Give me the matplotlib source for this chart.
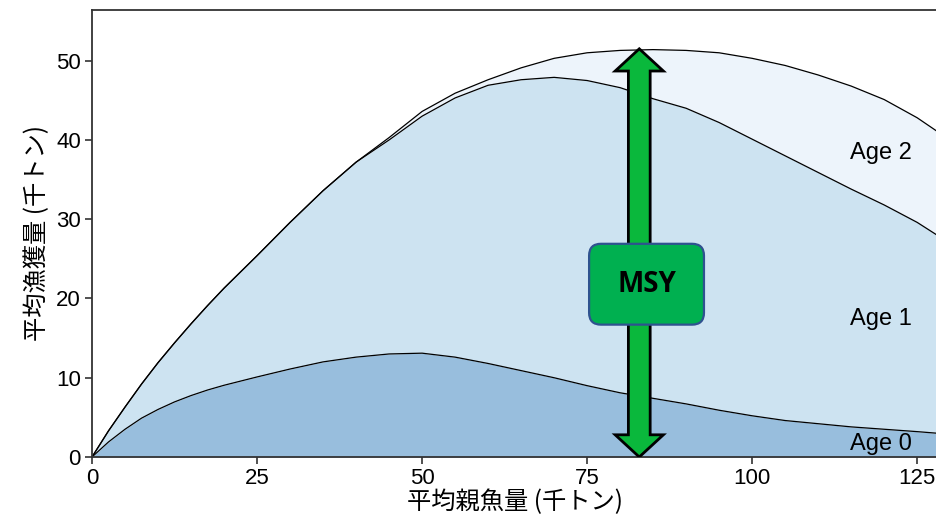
import matplotlib
matplotlib.use("Agg")
import numpy as np
import matplotlib.pyplot as plt
from matplotlib.patches import FancyArrow, FancyBboxPatch


# ---------------------------------
# Data (千トン)
# ---------------------------------

ssb = [0, 2.5, 5, 7.5, 10, 12.5, 15, 17.5, 20, 25, 30, 35, 40, 45, 50, 55, 60, 65,
       70, 75, 80, 85, 90, 95, 100, 105, 110, 115, 120, 125, 128]

age0 = [0, 1.9, 3.5, 4.9, 6.0, 6.95, 7.75, 8.45, 9.05, 10.1, 11.1, 12.0, 12.6, 13.0,
        13.1, 12.6, 11.8, 10.9, 10.0, 9.0, 8.1, 7.4, 6.7, 5.9, 5.2, 4.6, 4.2, 3.8,
        3.5, 3.2, 3.0]

age1 = [0, 1.4, 2.8, 4.3, 5.9, 7.45, 9.05, 10.65, 12.25, 15.3, 18.5, 21.6, 24.6, 27.0,
        29.9, 32.7, 35.1, 36.7, 37.9, 38.5, 38.5, 37.8, 37.3, 36.3, 34.9, 33.4,
        31.7, 30.0, 28.3, 26.4, 25.0]

age2 = [0, 0, 0, 0, 0, 0, 0, 0, 0, 0, 0, 0, 0, 0.3,
        0.6, 0.6, 0.7, 1.5, 2.4, 3.5, 4.7, 6.2, 7.3, 8.8, 10.2, 11.4, 12.3, 13.0,
        13.3, 13.2, 13.1]

age_labels = ["Age 0", "Age 1", "Age 2"]
age_colors = ["#98bedd", "#cde3f1", "#edf4fb"]

msy_x = 82.9
msy_y = 51.5


# ---------------------------------
# Figure
# ---------------------------------

fig = plt.figure(figsize=(9.37, 5.23), dpi=100)
ax = fig.add_axes([0.0982, 0.1262, 0.9018, 0.8547])

x = np.array(ssb)
c0 = np.array(age0)
c1 = c0 + np.array(age1)
c2 = c1 + np.array(age2)

ax.fill_between(x, 0, c0, color=age_colors[0], lw=0)
ax.fill_between(x, c0, c1, color=age_colors[1], lw=0)
ax.fill_between(x, c1, c2, color=age_colors[2], lw=0)

for c in (c0, c1, c2):
    ax.plot(x, c, color="black", lw=0.9)

ax.set_xlim(0, 128)
ax.set_ylim(0, 56.4)

ax.set_xticks([0, 25, 50, 75, 100, 125])
ax.set_yticks([0, 10, 20, 30, 40, 50])

for s in ["left", "bottom", "top"]:
    ax.spines[s].set_color("#333333")
    ax.spines[s].set_linewidth(1.3)
ax.spines["right"].set_visible(False)

ax.tick_params(direction="out", length=5, width=1.2, color="#333333",
               labelsize=16, labelcolor="black", pad=3)
for lab in ax.get_xticklabels() + ax.get_yticklabels():
    lab.set_fontfamily("Liberation Sans")

ax.set_xlabel("平均親魚量 (千トン)", fontsize=17.5,
              family=["Noto Sans CJK JP", "DejaVu Sans"], labelpad=0)
ax.set_ylabel("平均漁獲量 (千トン)", fontsize=17.5,
              family=["Noto Sans CJK JP", "DejaVu Sans"], labelpad=4)

# age labels
ax.text(119.5, 38.3, age_labels[2], fontsize=17, family="Liberation Sans",
        ha="center", va="center")
ax.text(119.5, 17.4, age_labels[1], fontsize=17, family="Liberation Sans",
        ha="center", va="center")
ax.text(119.5, 1.6, age_labels[0], fontsize=17, family="Liberation Sans",
        ha="center", va="center")


# ---------------------------------
# MSY arrow
# ---------------------------------

mid = 21.8
arrow_kw = dict(width=3.3, head_width=7.3, head_length=2.8,
                length_includes_head=True, fc="#0ab83c", ec="black",
                lw=2, zorder=5)
ax.add_patch(FancyArrow(msy_x, mid, 0, msy_y - mid, **arrow_kw))
ax.add_patch(FancyArrow(msy_x, mid, 0, -mid, **arrow_kw))

box = FancyBboxPatch((75.3, 16.7), 17.4, 10.2,
                     boxstyle="round,pad=0,rounding_size=1.8",
                     mutation_aspect=6.6 / 7.92,
                     fc="#00b050", ec="#2f528f", lw=1.6, zorder=6)
ax.add_patch(box)
ax.text(84.0, 21.8, "MSY", fontsize=20, fontweight="bold",
        family="Open Sans", ha="center", va="center", zorder=7)

fig.savefig("out.png", dpi=100)
